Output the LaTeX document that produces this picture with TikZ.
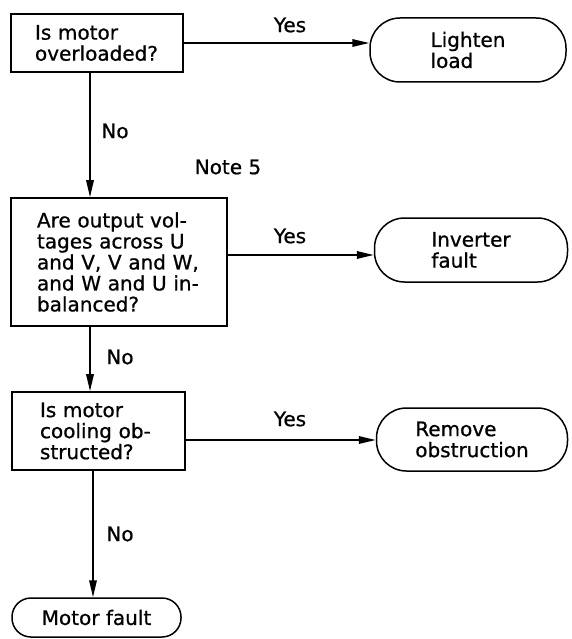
\documentclass[tikz,border=0pt]{standalone}
\usepackage{fontspec}
\setmainfont{DejaVu Sans}[BoldFont={DejaVu Sans},BoldFeatures={FakeBold=0.8}]
\usetikzlibrary{arrows.meta}
\begin{document}
\begin{tikzpicture}[x=1pt,y=-1pt,
  every node/.style={font=\fontsize{20}{21}\selectfont\bfseries},
  qbox/.style={draw, line width=1.6pt, rectangle, align=left, inner ysep=0pt},
  term/.style={draw, line width=1.5pt, rounded corners=30pt, align=left, inner sep=0pt},
  link/.style={line width=1.7pt},
  arr/.style={link, -{Triangle[length=17pt,width=7.5pt]}},
  lbl/.style={inner sep=0pt}]
\useasboundingbox (0,0) rectangle (571,639);
% decision boxes
\node[qbox, minimum width=172pt, minimum height=58pt, text width=124pt, inner xsep=24pt] (q1) at (97,43) {Is motor\\overloaded?};
\node[qbox, minimum width=216pt, minimum height=128pt, text width=164pt, inner xsep=26pt] (q2) at (119,262) {Are output vol-\\tages across U\\and V, V and W,\\and W and U in-\\balanced?};
\node[qbox, minimum width=173pt, minimum height=78pt, text width=117pt, inner xsep=28pt] (q3) at (98.5,431) {Is motor\\cooling ob-\\structed?};
% terminals
\node[term, minimum width=196pt, minimum height=64pt] (t1) at (468,50) {Lighten\\load};
\node[term, minimum width=193pt, minimum height=64pt] (t2) at (471,250) {Inverter\\fault};
\node[term, minimum width=191pt, minimum height=63pt] (t3) at (472,439.5) {Remove\\obstruction};
\node[term, rounded corners=19pt, minimum width=169pt, minimum height=39pt] (t4) at (96.5,617.5) {Motor fault};
% helper coordinates
\coordinate (y1) at (0,43);
\coordinate (y2) at (0,255);
\coordinate (y3) at (0,440);
\coordinate (x1) at (90,0);
\coordinate (x3) at (93,0);
% connectors
\draw[arr] (q1.east |- y1) -- (t1.west |- y1);
\draw[arr] (q2.east |- y2) -- (t2.west |- y2);
\draw[arr] (q3.east |- y3) -- (t3.west |- y3);
\draw[arr] (q1.south -| x1) -- (q2.north -| x1);
\draw[arr] (q2.south -| x1) -- (q3.north -| x1);
\draw[arr] (q3.south -| x3) -- (t4.north -| x3);
% labels
\node[lbl] (yes1) at (290,25) {Yes};
\node[lbl] (yes2) at (290,236) {Yes};
\node[lbl] (yes3) at (290,419) {Yes};
\node[lbl] (no1) at (115,131) {No};
\node[lbl] (no2) at (120,357) {No};
\node[lbl] (no3) at (120,534) {No};
\node[lbl] (note) at (228,167) {Note 5};
\end{tikzpicture}
\end{document}
